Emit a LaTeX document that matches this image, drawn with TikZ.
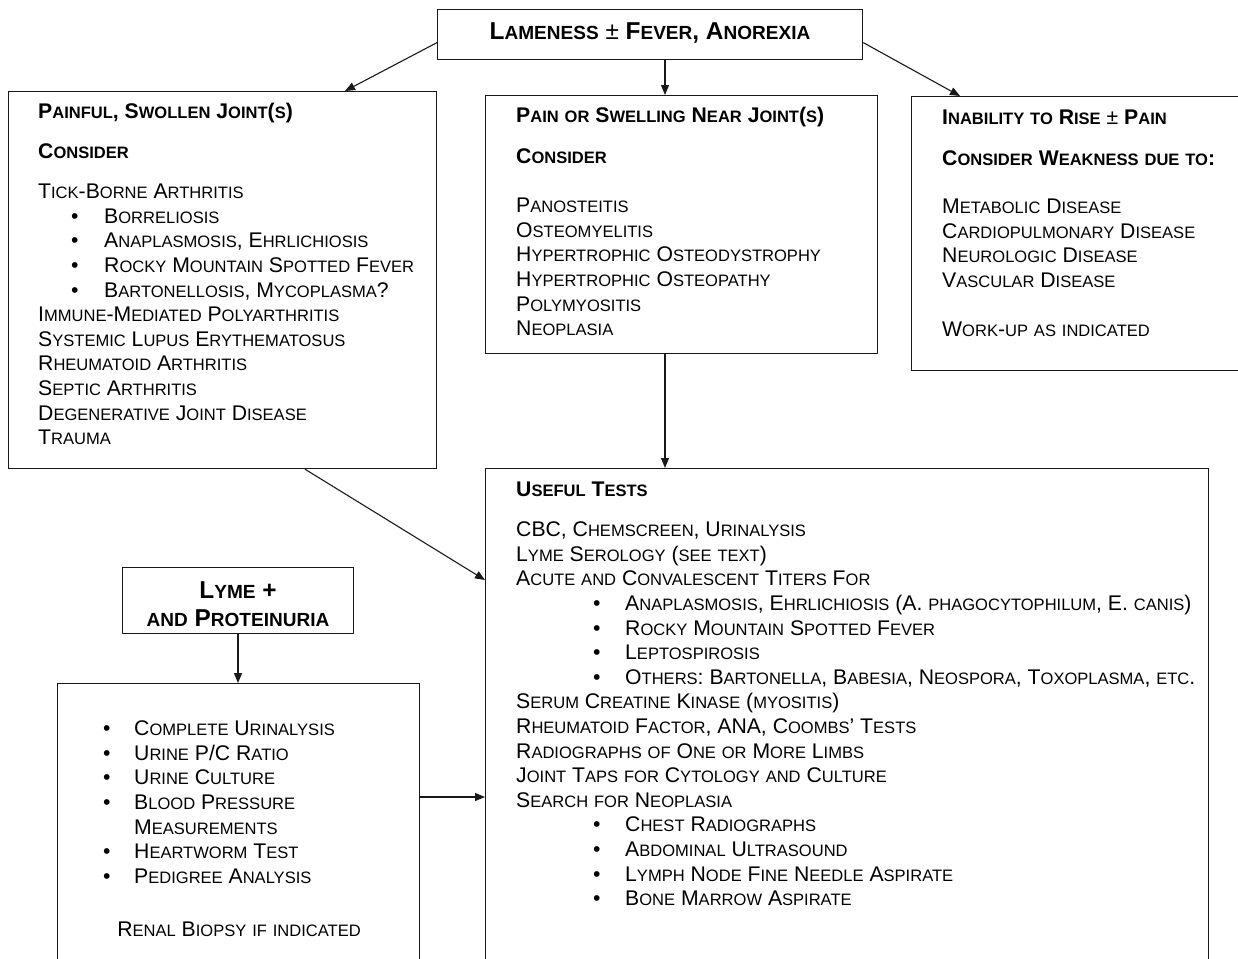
\documentclass[tikz,border=0pt]{standalone}
\usepackage{fontspec}
\setmainfont{Liberation Sans}
\usetikzlibrary{arrows.meta,calc}
\ExplSyntaxOn
\bool_new:N \l__fsc_first_bool
\seq_new:N \l__fsc_words_seq
\cs_new_protected:Npn \__fsc_char:n #1
  {
    \tl_if_in:nnTF { abcdefghijklmnopqrstuvwxyz } {#1}
      { { \fontsize { \fp_eval:n { 0.78 * \use:c { f@size } } } { \the\baselineskip } \selectfont \text_uppercase:n {#1} } }
      {#1}
  }
\cs_new_protected:Npn \__fsc_word:n #1
  { \tl_map_function:nN {#1} \__fsc_char:n }
\NewDocumentCommand \fsc { m }
  {
    \seq_set_split:Nnn \l__fsc_words_seq { ~ } {#1}
    \bool_set_true:N \l__fsc_first_bool
    \seq_map_inline:Nn \l__fsc_words_seq
      {
        \bool_if:NF \l__fsc_first_bool { \c_space_tl }
        \bool_set_false:N \l__fsc_first_bool
        \__fsc_word:n {##1}
      }
  }
\ExplSyntaxOff
\newcommand{\bodyfnt}{\fontsize{21.2}{24.6}\selectfont}
\newcommand{\bulA}{\makebox[66pt][l]{\hspace{33pt}\textbullet}}
\newcommand{\bulF}{\makebox[109pt][l]{\hspace{77pt}\textbullet}}
\newcommand{\bulE}{\makebox[31pt][l]{\textbullet}}
\newcommand{\strt}{\rule{0pt}{18pt}}
\begin{document}
\begin{tikzpicture}[x=1pt,y=-1pt,
  box/.style={draw=black!90, line width=1.2pt, inner sep=0pt, anchor=north west, fill=white},
  txt/.style={anchor=north west, inner sep=0pt, align=left, font=\bodyfnt},
  arr/.style={draw=black!90, line width=1.1pt, -{Triangle[length=10pt,width=8pt]}}]
\useasboundingbox (0,0) rectangle (1238,958);
\clip (0,0) rectangle (1238,958);
% boxes
\node[box, minimum width=425pt, minimum height=50pt] (T) at (437,9) {};
\node[box, minimum width=428pt, minimum height=377pt] (A) at (8,91) {};
\node[box, minimum width=392pt, minimum height=258pt] (B) at (485,95) {};
\node[box, minimum width=340pt, minimum height=274pt] (C) at (911,96) {};
\node[box, minimum width=231pt, minimum height=66pt] (D) at (122,567) {};
\node[box, minimum width=362pt, minimum height=290pt] (E) at (57,683) {};
\node[box, minimum width=723pt, minimum height=500pt] (F) at (485,468) {};
% title
\node[inner sep=0pt, font={\fontsize{24.4}{28}\selectfont\bfseries}] (Ttxt) at (650,33) {\fsc{Lameness} {\mdseries ±} \fsc{Fever, Anorexia}};
% box A text
\node[txt] (Atxt) at (38,100.5) {\strt\textbf{\fsc{Painful, Swollen Joint(s)}}\\[15.4pt]
\textbf{\fsc{Consider}}\\[15.4pt]
\fsc{Tick-Borne Arthritis}\\
\bulA\fsc{Borreliosis}\\
\bulA\fsc{Anaplasmosis, Ehrlichiosis}\\
\bulA\fsc{Rocky Mountain Spotted Fever}\\
\bulA\fsc{Bartonellosis, Mycoplasma?}\\
\fsc{Immune-Mediated Polyarthritis}\\
\fsc{Systemic Lupus Erythematosus}\\
\fsc{Rheumatoid Arthritis}\\
\fsc{Septic Arthritis}\\
\fsc{Degenerative Joint Disease}\\
\fsc{Trauma}};
% box B text
\node[txt] (Btxt) at (516,104.5) {\strt\textbf{\fsc{Pain or Swelling Near Joint(s)}}\\[16.4pt]
\textbf{\fsc{Consider}}\\[24.4pt]
\fsc{Panosteitis}\\
\fsc{Osteomyelitis}\\
\fsc{Hypertrophic Osteodystrophy}\\
\fsc{Hypertrophic Osteopathy}\\
\fsc{Polymyositis}\\
\fsc{Neoplasia}};
% box C text
\node[txt] (Ctxt) at (942,106.5) {\strt\textbf{\fsc{Inability to Rise} {\mdseries ±} \fsc{Pain}}\\[16.4pt]
\textbf{\fsc{Consider Weakness due to:}}\\[23.4pt]
\fsc{Metabolic Disease}\\
\fsc{Cardiopulmonary Disease}\\
\fsc{Neurologic Disease}\\
\fsc{Vascular Disease}\\[24.4pt]
\fsc{Work-up as indicated}};
% box D text
\node[inner sep=0pt, align=center, font={\fontsize{24.4}{28}\selectfont\bfseries}] (Dtxt) at (238,604) {\fsc{Lyme +}\\\fsc{and Proteinuria}};
% box E text
\node[txt] (Etxt) at (103,717.5) {\strt\bulE\fsc{Complete Urinalysis}\\
\bulE\fsc{Urine P/C Ratio}\\
\bulE\fsc{Urine Culture}\\
\bulE\fsc{Blood Pressure}\\
\hspace{31pt}\fsc{Measurements}\\
\bulE\fsc{Heartworm Test}\\
\bulE\fsc{Pedigree Analysis}};
\node[anchor=base, inner sep=0pt, font=\bodyfnt] (Erenal) at (239,936.5) {\fsc{Renal Biopsy if indicated}};
% box F text
\node[txt] (Ftxt) at (516,478.5) {\strt\textbf{\fsc{Useful Tests}}\\[15.4pt]
\fsc{CBC, Chemscreen, Urinalysis}\\
\fsc{Lyme Serology (see text)}\\
\fsc{Acute and Convalescent Titers For}\\
\bulF\fsc{Anaplasmosis, Ehrlichiosis (A. phagocytophilum, E. canis)}\\
\bulF\fsc{Rocky Mountain Spotted Fever}\\
\bulF\fsc{Leptospirosis}\\
\bulF\fsc{Others: Bartonella, Babesia, Neospora, Toxoplasma, etc.}\\
\fsc{Serum Creatine Kinase (myositis)}\\
\fsc{Rheumatoid Factor, ANA, Coombs' Tests}\\
\fsc{Radiographs of One or More Limbs}\\
\fsc{Joint Taps for Cytology and Culture}\\
\fsc{Search for Neoplasia}\\
\bulF\fsc{Chest Radiographs}\\
\bulF\fsc{Abdominal Ultrasound}\\
\bulF\fsc{Lymph Node Fine Needle Aspirate}\\
\bulF\fsc{Bone Marrow Aspirate}};
% connectors
\draw[arr] ($(T.west)+(0,8)$) -- ($(A.north west)+(337,0)$);
\draw[arr] ($(T.south west)+(228,0)$) -- ($(B.north west)+(180,0)$);
\draw[arr] ($(T.east)+(0,8)$) -- ($(C.north west)+(49,0)$);
\draw[arr] ($(B.south west)+(180,0)$) -- ($(F.north west)+(180,0)$);
\draw[arr] ($(A.south west)+(297,0)$) -- ($(F.north west)+(0,112)$);
\draw[arr] ($(D.south west)+(116,0)$) -- ($(E.north west)+(181,0)$);
\draw[arr] ($(E.north east)+(0,114)$) -- ($(F.north west)+(0,329)$);
\end{tikzpicture}
\end{document}
